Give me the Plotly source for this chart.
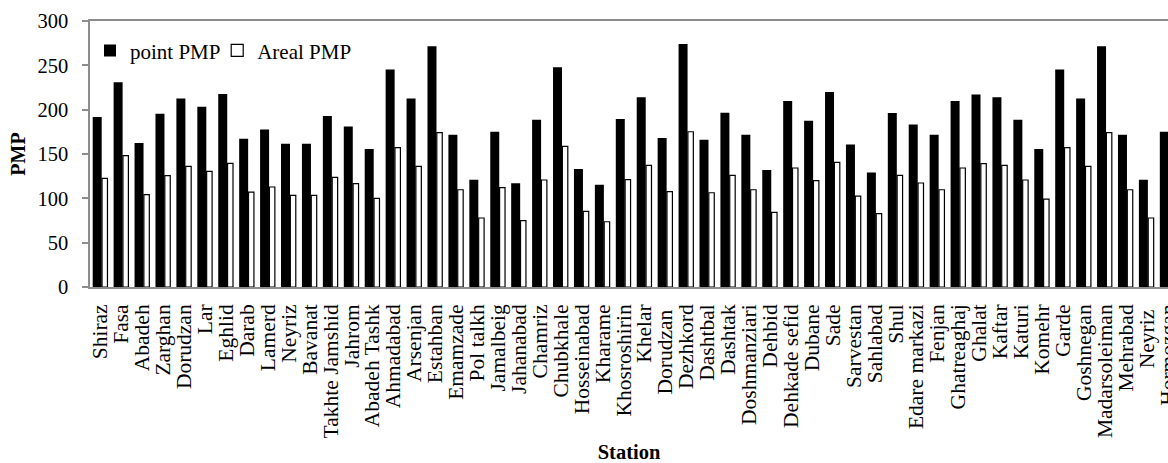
import plotly.graph_objects as go

stations = ["Shiraz", "Fasa", "Abadeh", "Zarghan", "Dorudzan", "Lar", "Eghlid", "Darab",
            "Lamerd", "Neyriz", "Bavanat", "Takhte Jamshid", "Jahrom", "Abadeh Tashk",
            "Ahmadabad", "Arsenjan", "Estahban", "Emamzade", "Pol talkh", "Jamalbeig",
            "Jahanabad", "Chamriz", "Chubkhale", "Hosseinabad", "Kharame", "Khosroshirin",
            "Khelar", "Dorudzan ", "Dezhkord", "Dashtbal", "Dashtak", "Doshmanziari",
            "Dehbid", "Dehkade sefid", "Dubane", "Sade", "Sarvestan", "Sahlabad", "Shul",
            "Edare markazi", "Fenjan", "Ghatreaghaj", "Ghalat", "Kaftar", "Katuri", "Komehr",
            "Garde", "Goshnegan", "Madarsoleiman", "Mehrabad", "Neyriz ", "Hormozgan"]

point_pmp = [191.7, 230.8, 162.4, 195.4, 212.7, 203.3, 217.6, 167.2,
             177.7, 161.6, 161.6, 192.8, 181.1, 155.6,
             245.4, 212.7, 271.4, 171.8, 121.0, 175.1,
             116.9, 188.7, 247.7, 133.1, 115.4, 189.5,
             213.9, 168.0, 274.0, 166.1, 196.6, 171.8,
             131.9, 209.8, 187.5, 219.9, 160.8, 129.2, 196.2,
             183.4, 171.8, 209.8, 217.2, 213.9, 188.7, 155.6,
             245.4, 212.7, 271.4, 171.8, 121.0, 175.1]

areal_pmp = [122.5, 148.1, 104.1, 125.5, 136.0, 130.4, 139.4, 107.1,
             112.8, 103.3, 103.3, 123.6, 116.5, 99.9,
             157.1, 136.0, 174.0, 109.7, 77.8, 112.0,
             74.8, 120.7, 158.6, 85.3, 73.6, 121.0,
             137.2, 107.5, 175.1, 106.3, 125.9, 109.7,
             84.1, 134.2, 119.9, 140.6, 102.6, 82.7, 125.9,
             117.3, 109.7, 134.2, 139.1, 137.2, 120.7, 99.2,
             157.1, 136.0, 174.0, 109.7, 77.8, 112.0]

y_ticks = [0, 50, 100, 150, 200, 250, 300]

FONT = "Liberation Serif, Times New Roman, serif"

fig = go.Figure()
fig.add_trace(go.Bar(
    x=stations, y=point_pmp, name="point PMP", legend="legend",
    marker=dict(color="black", line=dict(width=0)),
    width=0.43, offset=-0.371,
))
fig.add_trace(go.Bar(
    x=stations, y=areal_pmp, name="Areal PMP", legend="legend2",
    marker=dict(color="white", line=dict(color="black", width=1.2)),
    width=0.26, offset=0.075,
))

legend_common = dict(orientation="h", y=0.965, xanchor="left", yanchor="top",
                     bgcolor="rgba(0,0,0,0)", font=dict(size=21), itemwidth=30)

fig.update_layout(
    width=1168, height=463,
    margin=dict(l=90, r=0, t=21, b=176),
    paper_bgcolor="white", plot_bgcolor="white",
    barmode="overlay",
    font=dict(family=FONT, size=20.5, color="black"),
    showlegend=True,
    legend=dict(x=0.0, **legend_common),
    legend2=dict(x=0.118, **legend_common),
    xaxis=dict(
        type="category", range=[-0.5, 51.02],
        tickmode="array", tickvals=stations, ticktext=stations,
        showline=True, linecolor="#8c8c8c", linewidth=1.5, mirror=True,
        ticks="", tickangle=-90, automargin=False,
        tickfont=dict(size=21.5), ticklabelstandoff=7,
        title=dict(text="<b>Station</b>", font=dict(size=20.5), standoff=15),
        showgrid=False,
    ),
    yaxis=dict(
        range=[0, 300], tickvals=y_ticks,
        showline=True, linecolor="#8c8c8c", linewidth=1.5,
        ticks="outside", ticklen=6, tickcolor="#8c8c8c", tickwidth=1.5,
        showgrid=False, zeroline=False, automargin=False,
        tickfont=dict(size=20.5), ticklabelstandoff=10,
        title=dict(text="<b>PMP</b>", font=dict(size=20), standoff=6),
    ),
)

fig.write_html("out.html", config={"displayModeBar": False},
               post_script="document.body.style.margin='0px';document.body.style.overflow='hidden';")
